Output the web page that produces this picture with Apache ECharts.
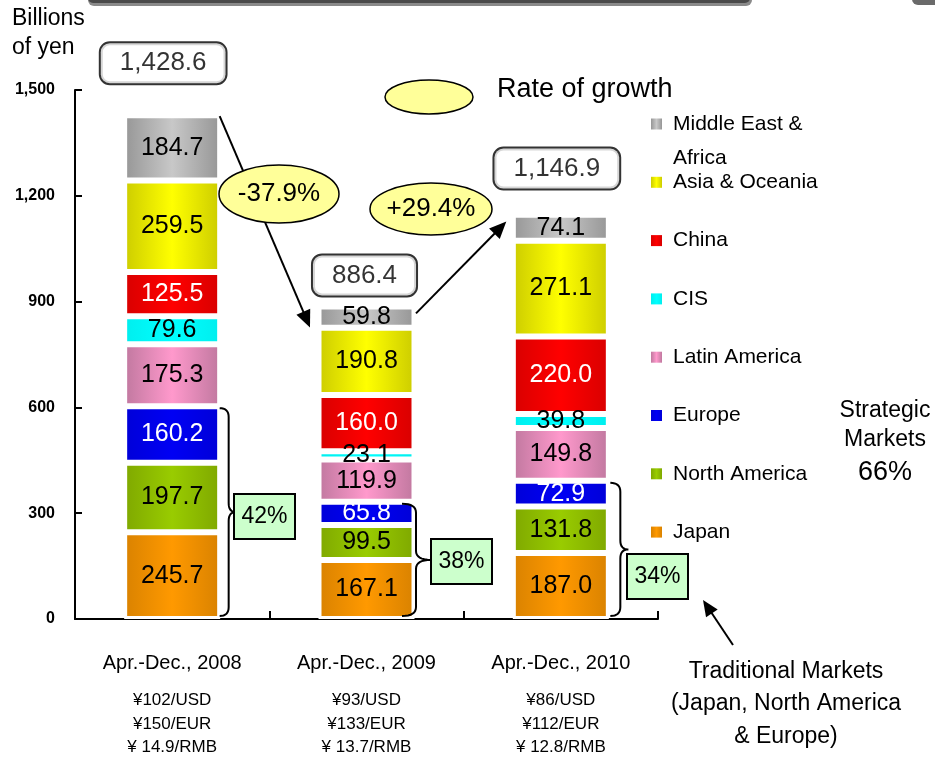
<!DOCTYPE html>
<html><head><meta charset="utf-8">
<script src="https://cdn.jsdelivr.net/npm/echarts@6/dist/echarts.min.js"></script>
<style>html,body{margin:0;padding:0;background:#fff}#c{width:935px;height:761px}</style>
</head><body><div id="c"></div>
<script>
// ---------- data ----------
const categories = ['Apr.-Dec., 2008', 'Apr.-Dec., 2009', 'Apr.-Dec., 2010'];
const rateUSD = ['¥102/USD', '¥93/USD', '¥86/USD'];
const rateEUR = ['¥150/EUR', '¥133/EUR', '¥112/EUR'];
const rateRMB = ['¥ 14.9/RMB', '¥ 13.7/RMB', '¥ 12.8/RMB'];
const japan = [245.7, 167.1, 187.0];
const northAmerica = [197.7, 99.5, 131.8];
const europe = [160.2, 65.8, 72.9];
const latinAmerica = [175.3, 119.9, 149.8];
const cis = [79.6, 23.1, 39.8];
const china = [125.5, 160.0, 220.0];
const asiaOceania = [259.5, 190.8, 271.1];
const middleEastAfrica = [184.7, 59.8, 74.1];
const totals = [1428.6, 886.4, 1146.9];
const growthRates = ['-37.9%', '+29.4%'];
const traditionalShares = ['42%', '38%', '34%'];
const yMin = 0, yMax = 1500, yInterval = 300;

// ---------- styling ----------
const FS = "'Liberation Sans','DejaVu Sans',sans-serif";
const seriesNames = ['Japan', 'North America', 'Europe', 'Latin America', 'CIS', 'China', 'Asia & Oceania', 'Middle East & Africa'];
const seriesData = [japan, northAmerica, europe, latinAmerica, cis, china, asiaOceania, middleEastAfrica];
const seriesColors = [
  ['#d98200', '#ff9900'], ['#7fa800', '#99cc00'], ['#0000d8', '#0000f4'], ['#c0789f', '#ff99cc'],
  ['#00eeee', '#00ffff'], ['#d80000', '#ff0000'], ['#cccc00', '#ffff00'], ['#969696', '#c8c8c8']
];
const labelColors = ['#000', '#000', '#fff', '#000', '#000', '#fff', '#000', '#000'];
const totalLabelOffsets = [[-9, -52], [-2, -31], [-4, -46]];

function grad(c) {
  return new echarts.graphic.LinearGradient(0, 0, 1, 0, [
    { offset: 0, color: c[0] }, { offset: 0.5, color: c[1] }, { offset: 1, color: c[0] }
  ]);
}
const fmtTotal = v => v.toLocaleString('en-US', { minimumFractionDigits: 1, maximumFractionDigits: 1 });

const series = seriesNames.map((n, k) => ({
  name: n, type: 'bar', stack: 'total', barWidth: 96,
  data: seriesData[k],
  itemStyle: { color: grad(seriesColors[k]), borderColor: '#fff', borderWidth: 3 },
  label: {
    show: true, position: 'inside', color: labelColors[k],
    fontFamily: FS, fontSize: 25,
    formatter: p => Number(p.value).toFixed(1)
  },
  emphasis: { disabled: true }
}));
series.push({
  name: 'Total', type: 'scatter', symbolSize: 1, itemStyle: { color: 'rgba(0,0,0,0)' },
  data: totals.map((v, i) => ({ value: [i, v], label: { offset: totalLabelOffsets[i] } })),
  label: {
    show: true, position: 'inside', formatter: p => fmtTotal(p.value[1]),
    fontFamily: FS, fontSize: 26, lineHeight: 30, color: '#000',
    backgroundColor: '#fff', borderColor: '#000', borderWidth: 2, borderRadius: 9,
    padding: [5, 19]
  },
  emphasis: { disabled: true }, z: 5
});

const chart = echarts.init(document.getElementById('c'));
const option = {
  animation: false,
  backgroundColor: '#fff',
  grid: { left: 75, right: 277, top: 90, bottom: 142 },
  legend: {
    orient: 'vertical', left: 651, top: 113, padding: 0,
    itemWidth: 11, itemHeight: 11, itemGap: 36.3, icon: 'rect', selectedMode: false,
    itemStyle: { borderWidth: 0, borderColor: 'rgba(0,0,0,0)' },
    data: seriesNames.slice().reverse(),
    formatter: n => n === 'Middle East & Africa' ? 'Middle East &' : n,
    textStyle: { fontFamily: FS, fontSize: 21, lineHeight: 22, color: '#000', padding: [0, 0, 0, 6] }
  },
  xAxis: {
    type: 'category', data: categories, boundaryGap: true,
    axisLine: { lineStyle: { color: '#000', width: 2 } },
    axisTick: { show: true, inside: true, length: 8, lineStyle: { color: '#000', width: 2 } },
    axisLabel: {
      margin: 18, interval: 0,
      formatter: (v, i) => `{t|${v}}\n{r|${rateUSD[i]}}\n{r|${rateEUR[i]}}\n{r|${rateRMB[i]}}`,
      rich: {
        t: { fontFamily: FS, fontSize: 20, lineHeight: 52, color: '#000' },
        r: { fontFamily: FS, fontSize: 17, lineHeight: 23.5, color: '#000' }
      }
    }
  },
  yAxis: {
    type: 'value', min: yMin, max: yMax, interval: yInterval,
    splitLine: { show: false },
    axisLine: { show: true, lineStyle: { color: '#000', width: 2 } },
    axisTick: { show: true, inside: true, length: 7, lineStyle: { color: '#000', width: 2 } },
    axisLabel: { margin: 20, fontFamily: FS, fontSize: 16, fontWeight: 'bold', color: '#000',
      formatter: v => v.toLocaleString('en-US') }
  },
  series: series
};
chart.setOption(option);

// ---------- annotations (anchored to data via the axes) ----------
const px = (i, v) => chart.convertToPixel({ gridIndex: 0 }, [i, v]);
const halfBar = 46.5;
const G = [];
const T = (text, x, y, size, fam, align, extra) => ({
  type: 'text', x, y, z: 20,
  style: Object.assign({ text, fill: '#000', fontSize: size, fontFamily: fam,
    align: align || 'left', textAlign: align || 'left', verticalAlign: 'middle', textVerticalAlign: 'middle' }, extra || {})
});

function arrow(x1, y1, x2, y2, len, hw, z) {
  const dx = x2 - x1, dy = y2 - y1, L = Math.hypot(dx, dy), ux = dx / L, uy = dy / L;
  const bx = x2 - ux * len, by = y2 - uy * len, nx = -uy, ny = ux;
  return [
    { type: 'line', z, shape: { x1, y1, x2: bx + ux, y2: by + uy }, style: { stroke: '#000', lineWidth: 2 } },
    { type: 'polygon', z, shape: { points: [[x2, y2], [bx + nx * hw, by + ny * hw], [bx - nx * hw, by - ny * hw]] }, style: { fill: '#000' } }
  ];
}
function quad(p0, c, p1, n) {
  const out = [];
  for (let k = 0; k <= n; k++) {
    const t = k / n, a = (1 - t) * (1 - t), b = 2 * (1 - t) * t, d = t * t;
    out.push([a * p0[0] + b * c[0] + d * p1[0], a * p0[1] + b * c[1] + d * p1[1]]);
  }
  return out;
}
function brace(xL, xV, xT, yTop, yBot) {
  const yM = (yTop + yBot) / 2, r = 9;
  let pts = [];
  pts = pts.concat(quad([xL, yTop], [xV, yTop], [xV, yTop + r], 8));
  pts = pts.concat(quad([xV, yM - r], [xV, yM], [xT, yM], 8));
  pts = pts.concat(quad([xT, yM], [xV, yM], [xV, yM + r], 8));
  pts = pts.concat(quad([xV, yBot - r], [xV, yBot], [xL, yBot], 8));
  return { type: 'polyline', z: 15, shape: { points: pts }, style: { stroke: '#000', lineWidth: 2, fill: null } };
}

// top frame decoration
G.push({ type: 'rect', z: 1, shape: { x: 88, y: -10, width: 664, height: 16, r: 6 }, style: { fill: '#8a8a8a' } });
G.push({ type: 'rect', z: 2, shape: { x: 88, y: -10, width: 662, height: 13, r: 5 }, style: { fill: '#4a4a4a' } });
G.push({ type: 'rect', z: 1, shape: { x: 912, y: -10, width: 40, height: 15, r: 6 }, style: { fill: '#6a6a6a' } });

// y-axis unit
G.push(T('Billions\nof yen', 12, 33, 23, FS, 'left', { lineHeight: 29 }));

// growth arrows
const p0 = px(0, totals[0]), p1 = px(1, totals[1]), p2 = px(2, totals[2]);
arrow(p0[0] + halfBar + 1, p0[1] + 1, p1[0] - halfBar - 10, p1[1] + 21, 17, 7.5, 12).forEach(e => G.push(e));
arrow(p1[0] + halfBar + 3, p1[1] + 7, p2[0] - halfBar - 8, p2[1] + 7, 17, 7.5, 12).forEach(e => G.push(e));

// growth ellipses
const ellipses = [[279, 194, 60, 29], [431, 209, 61, 26]];
ellipses.forEach((e, i) => {
  G.push({ type: 'ellipse', z: 14, shape: { cx: e[0], cy: e[1], rx: e[2], ry: e[3] }, style: { fill: '#ffff99', stroke: '#000', lineWidth: 1.5 } });
  G.push(T(growthRates[i], e[0], e[1], 26, FS, 'center'));
});
// "Rate of growth" key
G.push({ type: 'ellipse', z: 14, shape: { cx: 429, cy: 97, rx: 44, ry: 17 }, style: { fill: '#ffff99', stroke: '#000', lineWidth: 1.5 } });
G.push(T('Rate of growth', 497, 90, 27, FS, 'left'));

// braces for traditional markets
const tradTop = [0, 1, 2].map(i => japan[i] + northAmerica[i] + europe[i]);
const braceOffs = [[1, 10, 17], [-11, 3, 18], [3, 13, 21]];
const boxes = [[234, 494], [431, 539], [627, 554]];
for (let i = 0; i < 3; i++) {
  const top = px(i, tradTop[i]), bot = px(i, 0);
  const xr = top[0] + halfBar;
  G.push(brace(xr + braceOffs[i][0], xr + braceOffs[i][1], xr + braceOffs[i][2], top[1] + 2, bot[1] - 3));
  G.push({ type: 'rect', z: 16, shape: { x: boxes[i][0], y: boxes[i][1], width: 61, height: 45 }, style: { fill: '#ccffcc', stroke: '#000', lineWidth: 2 } });
  G.push(T(traditionalShares[i], boxes[i][0] + 30.5, boxes[i][1] + 23, 23, FS, 'center'));
}

// legend continuation line
G.push(T('Africa', 673, 158, 21, FS, 'left'));

// side notes
G.push(T('Strategic\nMarkets', 885, 425, 23, FS, 'center', { lineHeight: 29 }));
G.push(T('66%', 885, 473, 27, FS, 'center'));
G.push(T('Traditional Markets\n(Japan, North America\n& Europe)', 786, 704, 23, FS, 'center', { lineHeight: 32.5 }));
arrow(733, 645, 703, 600, 16, 7, 12).forEach(e => G.push(e));

chart.setOption({ graphic: { elements: G } });
</script>
</body></html>
